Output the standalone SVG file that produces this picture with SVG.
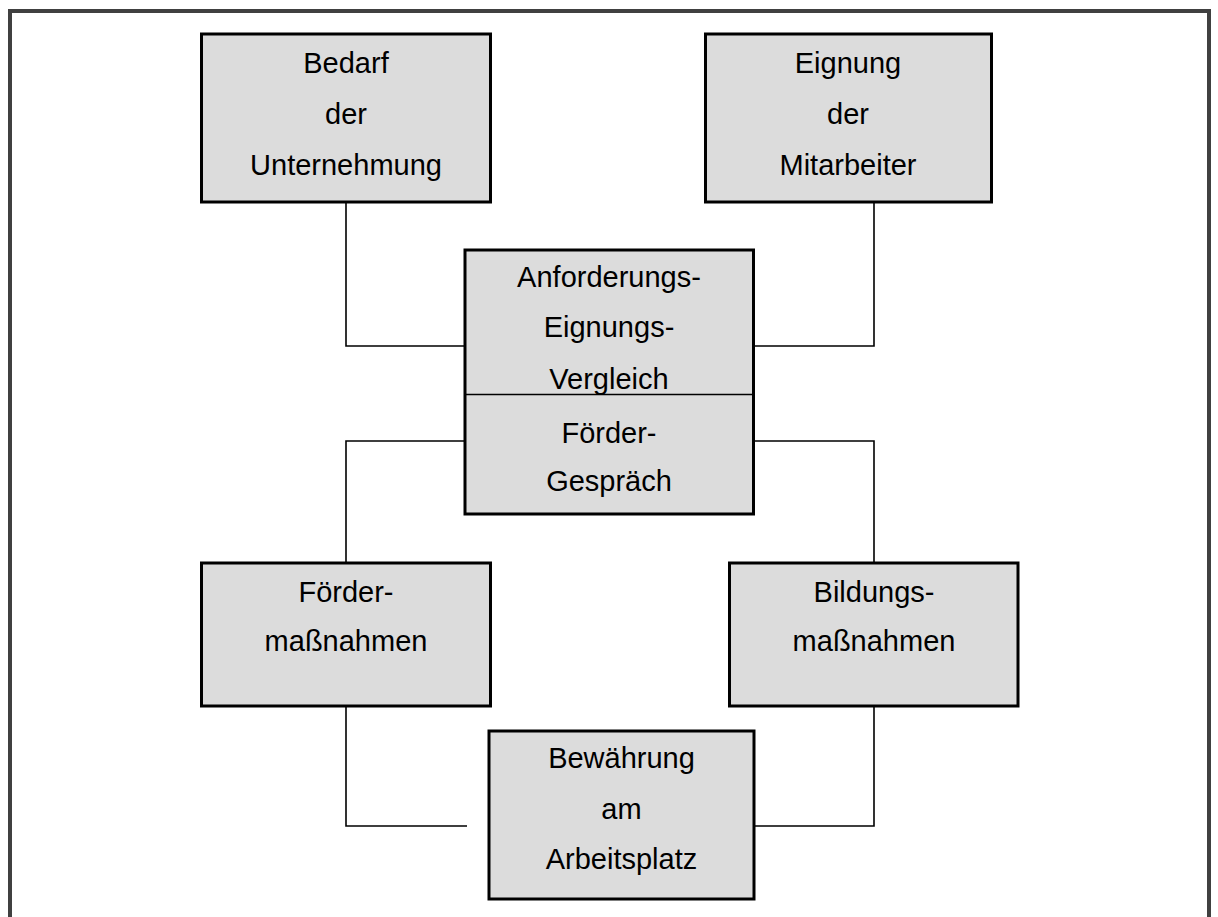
<svg xmlns="http://www.w3.org/2000/svg" width="1218" height="917" viewBox="0 0 1218 917">
<style>
.box{fill:#dcdcdc;stroke:#000;stroke-width:3}
.ln{fill:none;stroke:#000;stroke-width:1.6}
.frame{fill:none;stroke:#404040;stroke-width:4}
text{font-family:"Liberation Sans",Arial,sans-serif;font-size:29px;fill:#000;text-anchor:middle}
</style>
<rect width="1218" height="917" fill="#fff"/>
<path class="frame" d="M10,917 V11 H1209 V917"/>
<g id="connectors">
<path class="ln" d="M346,202 V346 H465"/>
<path class="ln" d="M874,202 V346 H753"/>
<path class="ln" d="M465,441 H346 V562"/>
<path class="ln" d="M753,441 H874 V562"/>
<path class="ln" d="M346,706 V826 H467"/>
<path class="ln" d="M874,706 V826 H754"/>
</g>
<g id="bedarf">
<rect class="box" x="201.5" y="34" width="289" height="168"/>
<text x="346" y="73">Bedarf</text>
<text x="346" y="124">der</text>
<text x="346" y="175">Unternehmung</text>
</g>
<g id="eignung">
<rect class="box" x="705.5" y="34" width="286" height="168"/>
<text x="848" y="73">Eignung</text>
<text x="848" y="124">der</text>
<text x="848" y="175">Mitarbeiter</text>
</g>
<g id="vergleich">
<rect class="box" x="465" y="250" width="288.5" height="264"/>
<line class="ln" x1="465" y1="394.5" x2="753.5" y2="394.5"/>
<text x="609" y="287">Anforderungs-</text>
<text x="609" y="337">Eignungs-</text>
<text x="609" y="389">Vergleich</text>
<text x="609" y="443">Förder-</text>
<text x="609" y="491">Gespräch</text>
</g>
<g id="foerdermassnahmen">
<rect class="box" x="201.5" y="563" width="289" height="143"/>
<text x="346" y="602">Förder-</text>
<text x="346" y="651">maßnahmen</text>
</g>
<g id="bildungsmassnahmen">
<rect class="box" x="729.5" y="563" width="288.5" height="143"/>
<text x="874" y="602">Bildungs-</text>
<text x="874" y="651">maßnahmen</text>
</g>
<g id="bewaehrung">
<rect class="box" x="489" y="731" width="265" height="168"/>
<text x="621.5" y="768">Bewährung</text>
<text x="621.5" y="819">am</text>
<text x="621.5" y="869">Arbeitsplatz</text>
</g>
</svg>
